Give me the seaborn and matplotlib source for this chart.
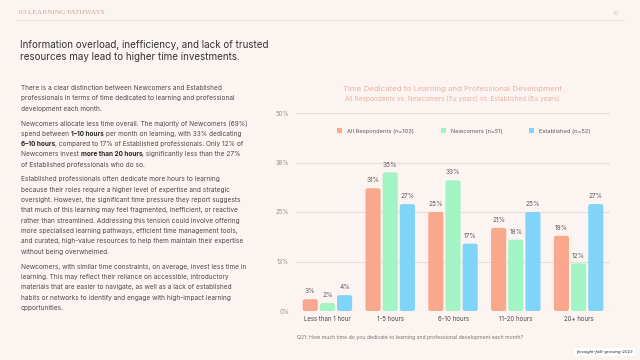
import matplotlib
matplotlib.use("Agg")
import matplotlib.pyplot as plt
import seaborn as sns
import pandas as pd
from matplotlib.patches import FancyBboxPatch, Patch
from matplotlib.lines import Line2D

# ---------------- data ----------------
categories = ["Less than 1 hour", "1-5 hours", "6-10 hours", "11-20 hours", "20+ hours"]
groups = ["All Respondents (n=103)", "Newcomers (n=51)", "Established (n=52)"]
all_respondents = [3, 31, 25, 21, 19]
newcomers = [2, 35, 33, 18, 12]
established = [4, 27, 17, 25, 27]
ytick_values = [0, 12.5, 25, 37.5, 50]
ytick_labels = ["0%", "13%", "25%", "38%", "50%"]

colors = ["#f9a88e", "#a2f4c4", "#7fd4f7"]
BG = "#fcf4f1"
FONT = ["Inter", "DejaVu Sans"]

rows = []
for g, vals in zip(groups, [all_respondents, newcomers, established]):
    for c, v in zip(categories, vals):
        rows.append({"category": c, "group": g, "value": v})
df = pd.DataFrame(rows)

sns.set_theme(style="white")
plt.rcParams["font.family"] = FONT

fig = plt.figure(figsize=(6.4, 3.6), dpi=100)
fig.patch.set_facecolor(BG)

W, H = 640, 360
def fx(px): return px / W
def fy(py): return 1 - py / H

renderer = fig.canvas.get_renderer()

def fit_size(text, target_px, **kw):
    t = fig.text(0, 0, text, fontsize=10, **kw)
    w = t.get_window_extent(renderer=renderer).width
    t.remove()
    return 10 * target_px / w

ax = fig.add_axes([fx(296), fy(311), fx(610) - fx(296), (311 - 113) / H])
ax.set_facecolor(BG)

sns.barplot(data=df, x="category", y="value", hue="group", order=categories,
            hue_order=groups, palette=colors, width=0.82, gap=0.12,
            ax=ax, legend=False, saturation=1)

xt_size = fit_size("Less than 1 hour", 47)
ax.set_ylim(0, 50)
ax.set_xlim(-0.5, 4.5)
ax.set_yticks(ytick_values)
ax.set_yticklabels(ytick_labels, fontsize=4.4, color="#9a8e8b")
ax.tick_params(axis="y", length=0, pad=5)
ax.tick_params(axis="x", length=0, pad=3.5, labelsize=xt_size, labelcolor="#4a4a4a")
ax.set_xlabel("")
ax.set_ylabel("")
for s in ax.spines.values():
    s.set_visible(False)
ax.grid(False)
for yv in ytick_values:
    ax.axhline(yv, color="#e9dedb", lw=0.8, zorder=0)

# rounded bars
fig.canvas.draw()
bb = ax.get_window_extent()
xpp = 5.0 / bb.width
ypp = 50.0 / bb.height
aspect = ypp / xpp
bars = list(ax.patches)
for p in bars:
    x0, y0 = p.get_x(), p.get_y()
    w, h = p.get_width(), p.get_height()
    fc = p.get_facecolor()
    p.remove()
    r = min(2.2 * xpp, w / 2, h / aspect / 2 if h > 0 else 0.0)
    fb = FancyBboxPatch((x0, y0), w, h,
                        boxstyle=f"round,pad=0,rounding_size={r}",
                        mutation_aspect=aspect, facecolor=fc,
                        edgecolor="none", zorder=2)
    ax.add_patch(fb)
    ax.annotate(f"{int(round(h))}%", (x0 + w / 2, h), xytext=(0, 3.5),
                textcoords="offset points", ha="center", va="bottom",
                fontsize=4.7, color="#5a5a5a")

# legend
leg_size = fit_size("All Respondents (n=103)", 67)
handles = [Patch(facecolor=c, edgecolor="none", label=g) for c, g in zip(colors, groups)]
unit = leg_size * 100 / 72.0
ax.legend(handles=handles, loc="center", bbox_to_anchor=(0.535, 0.909), ncol=3,
          frameon=False, fontsize=leg_size, handlelength=5.0 / unit, handleheight=5.0 / unit,
          handletextpad=5.0 / unit, columnspacing=27.0 / unit, labelcolor="#5a5a5a")

# chart titles
t1 = "Time Dedicated to Learning and Professional Development"
t2 = "All Respondents vs. Newcomers (5\u2264 years) vs. Established (6\u2264 years)"
fig.text(fx(452), fy(89), t1, ha="center", va="center",
         fontsize=fit_size(t1, 220), color="#e6b4a2")
fig.text(fx(452.5), fy(99), t2, ha="center", va="center",
         fontsize=fit_size(t2, 213), color="#e6b4a2")

q = "Q21: How much time do you dedicate to learning and professional development each month?"
fig.text(fx(297), fy(337), q, ha="left", va="center", fontsize=fit_size(q, 227), color="#7a7070")

src = "foresight-folk-growing-2023"
fig.text(fx(633), fy(352), src, ha="right", va="center",
         fontsize=fit_size(src, 57, style="italic"), color="#222222", style="italic",
         bbox=dict(boxstyle="square,pad=0.6", facecolor="white", edgecolor="none"))

# header
SERIF = ["Liberation Serif", "DejaVu Serif"]
hdr = "03 LEARNING PATHWAYS"
fig.text(fx(19), fy(13), hdr, ha="left", va="center",
         fontsize=fit_size(hdr, 85, family=SERIF), color="#d7a38d", family=SERIF)
fig.text(fx(619), fy(13.5), "42", ha="right", va="center", fontsize=4.5,
         color="#d7bfb5", family=SERIF)
fig.add_artist(Line2D([fx(16), fx(624)], [fy(19.5), fy(19.5)], color="#eadfdb", lw=0.7))

# headline
h1 = "Information overload, inefficiency, and lack of trusted"
h2 = "resources may lead to higher time investments."
hs = fit_size(h1, 250)
fig.text(fx(20.5), fy(45), h1, ha="left", va="center", fontsize=hs, color="#333333")
fig.text(fx(20.5), fy(57.5), h2, ha="left", va="center", fontsize=hs, color="#333333")

# body text with bold runs
BODY_SIZE = fit_size("and curated, high-value resources to help them maintain their expertise", 221)
BODY_COLOR = "#4a4a4a"

def draw_runs(y_px, runs):
    x_px = 21.0
    for txt, bold in runs:
        t = fig.text(fx(x_px), fy(y_px), txt, ha="left", va="center",
                     fontsize=BODY_SIZE, color="#2a2a2a" if bold else BODY_COLOR,
                     fontweight="bold" if bold else "normal")
        ext = t.get_window_extent(renderer=renderer)
        x_px += ext.width

paragraphs = [
    (88, [
        [("There is a clear distinction between Newcomers and Established", False)],
        [("professionals in terms of time dedicated to learning and professional", False)],
        [("development each month.", False)],
    ]),
    (123.3, [
        [("Newcomers allocate less time overall. The majority of Newcomers (69%)", False)],
        [("spend between ", False), ("1\u201310 hours", True), (" per month on learning, with 33% dedicating", False)],
        [("6\u201310 hours", True), (", compared to 17% of Established professionals. Only 12% of", False)],
        [("Newcomers invest ", False), ("more than 20 hours", True), (", significantly less than the 27%", False)],
        [("of Established professionals who do so.", False)],
    ]),
    (179.3, [
        [("Established professionals often dedicate more hours to learning", False)],
        [("because their roles require a higher level of expertise and strategic", False)],
        [("oversight. However, the significant time pressure they report suggests", False)],
        [("that much of this learning may feel fragmented, inefficient, or reactive", False)],
        [("rather than streamlined. Addressing this tension could involve offering", False)],
        [("more specialised learning pathways, efficient time management tools,", False)],
        [("and curated, high-value resources to help them maintain their expertise", False)],
        [("without being overwhelmed.", False)],
    ]),
    (266.7, [
        [("Newcomers, with similar time constraints, on average, invest less time in", False)],
        [("learning. This may reflect their reliance on accessible, introductory", False)],
        [("materials that are easier to navigate, as well as a lack of established", False)],
        [("habits or networks to identify and engage with high-impact learning", False)],
        [("opportunities.", False)],
    ]),
]
LINE = 10.35
for y0, lines in paragraphs:
    for i, runs in enumerate(lines):
        draw_runs(y0 + i * LINE, runs)

fig.savefig("out.png", dpi=100, facecolor=BG)
